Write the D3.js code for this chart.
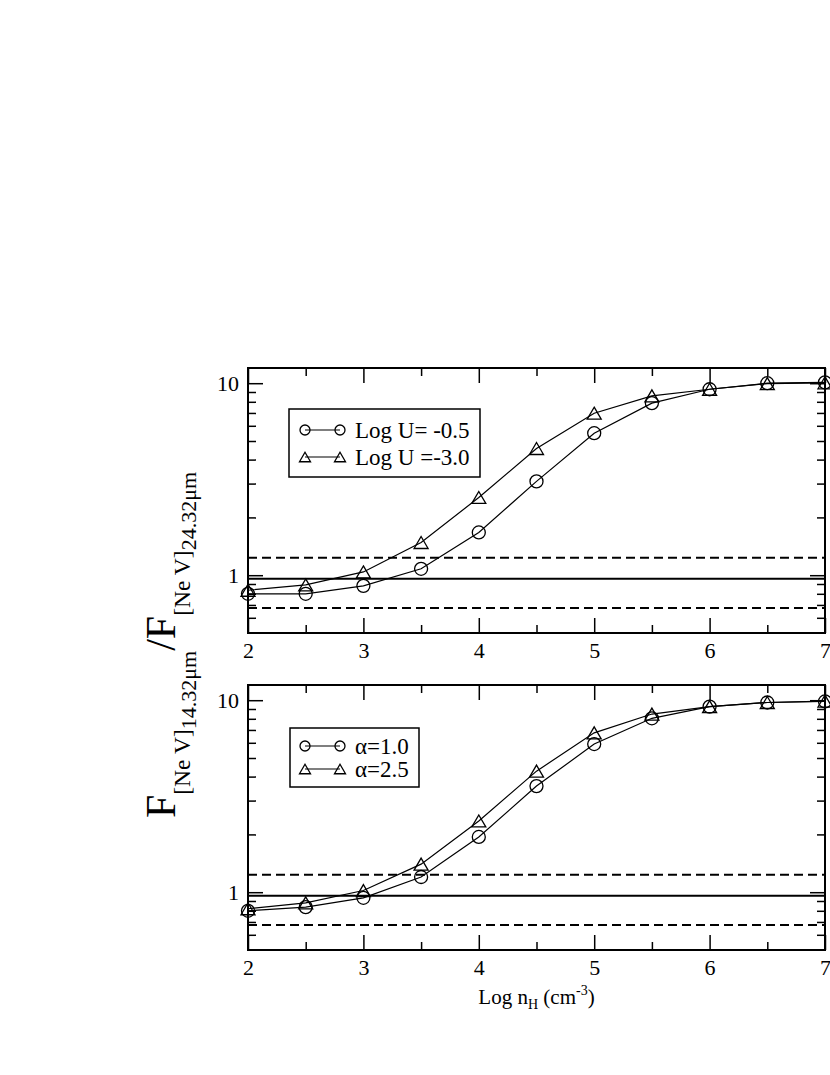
<!DOCTYPE html>
<html>
<head>
<meta charset="utf-8">
<script src="https://cdn.jsdelivr.net/npm/d3@7"></script>
<style>
  html, body { margin: 0; padding: 0; background: #fff; }
  svg { display: block; }
  svg text { font-family: "Liberation Serif", "Times New Roman", serif !important; fill: #000; }
</style>
</head>
<body>
<svg id="chart" width="830" height="1075"></svg>
<script>
// ---- data ----
const logNH = [2, 2.5, 3, 3.5, 4, 4.5, 5, 5.5, 6, 6.5, 7];

const topSeriesLabels = ["Log U= -0.5", "Log U =-3.0"];
const topCircle   = [0.80, 0.80, 0.88, 1.08, 1.67, 3.08, 5.49, 7.87, 9.30, 10.0, 10.1];
const topTriangle = [0.835, 0.89, 1.04, 1.48, 2.54, 4.57, 6.98, 8.59, 9.30, 9.95, 10.05];

const bottomSeriesLabels = ["\u03b1=1.0", "\u03b1=2.5"];
const bottomCircle   = [0.80, 0.836, 0.935, 1.20, 1.94, 3.57, 5.91, 8.05, 9.26, 9.73, 9.85];
const bottomTriangle = [0.82, 0.88, 1.02, 1.40, 2.35, 4.27, 6.76, 8.47, 9.26, 9.73, 9.90];

// observed ratio (solid) and its range (dashed)
const observedRatio = [0.957];
const observedRange = [0.675, 1.233];

const xMajorTicks = [2, 3, 4, 5, 6, 7];
const xMinorTicks = [2.5, 3.5, 4.5, 5.5, 6.5];
const yMajorTicks = [1, 10];
const yMinorTicks = [0.6, 0.7, 0.8, 0.9, 2, 3, 4, 5, 6, 7, 8, 9];
const xDomain = [2, 7];
const yDomain = [0.5, 12];

const SERIF = "'Liberation Serif', 'Times New Roman', serif";

// ---- layout ----
const svg = d3.select("#chart");
const left = 248, right = 825;
const panels = [
  { top: 368, bottom: 633, circle: topCircle, tri: topTriangle, labels: topSeriesLabels,
    legend: { x0: 289, x1: 480, y0: 409, y1: 477, rows: [430, 457] } },
  { top: 685, bottom: 950, circle: bottomCircle, tri: bottomTriangle, labels: bottomSeriesLabels,
    legend: { x0: 290, x1: 419, y0: 728, y1: 787, rows: [746, 769] } }
];

const x = d3.scaleLinear().domain(xDomain).range([left, right]);

function triPath(w, h) {
  return `M0,${-h / 2}L${w / 2},${h / 2}L${-w / 2},${h / 2}Z`;
}

panels.forEach(p => {
  const y = d3.scaleLog().domain(yDomain).range([p.bottom, p.top]);
  const g = svg.append("g");

  const mk = (axisFn, scale, vals, size, labels) => {
    const a = axisFn(scale).tickValues(vals).tickSizeInner(-size).tickSizeOuter(0)
      .tickPadding(labels ? 9 : 0);
    if (!labels) a.tickFormat("");
    else a.tickFormat(d3.format("d"));
    return a;
  };
  const axes = [
    [d3.axisBottom, x, `translate(0,${p.bottom})`, xMajorTicks, xMinorTicks, true],
    [d3.axisTop, x, `translate(0,${p.top})`, xMajorTicks, xMinorTicks, false],
    [d3.axisLeft, y, `translate(${left},0)`, yMajorTicks, yMinorTicks, true],
    [d3.axisRight, y, `translate(${right},0)`, yMajorTicks, yMinorTicks, false]
  ];
  axes.forEach(([fn, sc, tr, maj, min, lab]) => {
    const ga = g.append("g").attr("transform", tr).call(mk(fn, sc, maj, 15, lab));
    const gm = g.append("g").attr("transform", tr).call(mk(fn, sc, min, 8, false));
    [ga, gm].forEach(s => {
      s.attr("font-family", null).attr("font-size", null);
      s.select(".domain").remove();
      s.selectAll(".tick line").attr("stroke", "#000").attr("stroke-width", 1.5);
      s.selectAll(".tick text").style("font-size", "22px").style("font-family", SERIF);
    });
  });

  // frame
  g.append("rect").attr("x", left).attr("y", p.top)
    .attr("width", right - left).attr("height", p.bottom - p.top)
    .attr("fill", "none").attr("stroke", "#000").attr("stroke-width", 2);

  // reference lines
  g.selectAll(".obs").data(observedRatio).enter().append("line")
    .attr("x1", left).attr("x2", right)
    .attr("y1", d => y(d)).attr("y2", d => y(d))
    .attr("stroke", "#000").attr("stroke-width", 2);
  g.selectAll(".rng").data(observedRange).enter().append("line")
    .attr("x1", left).attr("x2", right)
    .attr("y1", d => y(d)).attr("y2", d => y(d))
    .attr("stroke", "#000").attr("stroke-width", 2).attr("stroke-dasharray", "9,5");

  const line = d3.line().x((d, i) => x(logNH[i])).y(d => y(d));
  [p.circle, p.tri].forEach(s => {
    g.append("path").attr("d", line(s)).attr("fill", "none")
      .attr("stroke", "#000").attr("stroke-width", 1.2);
  });
  g.selectAll(".c").data(p.circle).enter().append("circle")
    .attr("cx", (d, i) => x(logNH[i])).attr("cy", d => y(d)).attr("r", 6.5)
    .attr("fill", "none").attr("stroke", "#000").attr("stroke-width", 1.3);
  g.selectAll(".t").data(p.tri).enter().append("path")
    .attr("d", triPath(14, 12))
    .attr("transform", (d, i) => `translate(${x(logNH[i])},${y(d)})`)
    .attr("fill", "none").attr("stroke", "#000").attr("stroke-width", 1.3);

  // legend
  const L = p.legend;
  g.append("rect").attr("x", L.x0).attr("y", L.y0)
    .attr("width", L.x1 - L.x0).attr("height", L.y1 - L.y0)
    .attr("fill", "#fff").attr("stroke", "#000").attr("stroke-width", 1.5);
  L.rows.forEach((ry, k) => {
    g.append("line").attr("x1", 305).attr("x2", 340).attr("y1", ry).attr("y2", ry)
      .attr("stroke", "#000").attr("stroke-width", 1.2);
    [305, 340].forEach(cx => {
      if (k === 0) {
        g.append("circle").attr("cx", cx).attr("cy", ry).attr("r", 5)
          .attr("fill", "none").attr("stroke", "#000").attr("stroke-width", 1.3);
      } else {
        g.append("path").attr("d", triPath(11, 9.5))
          .attr("transform", `translate(${cx},${ry})`)
          .attr("fill", "none").attr("stroke", "#000").attr("stroke-width", 1.3);
      }
    });
    g.append("text").attr("x", 355).attr("y", ry).attr("dy", "0.35em")
      .style("font-size", "23px").style("font-family", SERIF).text(p.labels[k]);
  });
});

// x-axis title
const xt = svg.append("text").attr("x", 536.5).attr("y", 1004)
  .attr("text-anchor", "middle").style("font-size", "21px").style("font-family", SERIF);
xt.append("tspan").text("Log n");
xt.append("tspan").style("font-size", "14px").attr("dy", 5).text("H");
xt.append("tspan").attr("dy", -5).text(" (cm");
xt.append("tspan").style("font-size", "14px").attr("dy", -9).text("-3");
xt.append("tspan").attr("dy", 9).text(")");

// y-axis title (rotated)
const yt = svg.append("text").attr("transform", "translate(175,645) rotate(-90)")
  .attr("text-anchor", "middle").style("font-size", "42px").style("font-family", SERIF);
yt.append("tspan").text("F");
yt.append("tspan").style("font-size", "23.5px").attr("dy", 15).text("[Ne V]");
yt.append("tspan").style("font-size", "22px").attr("dy", 6).text("14.32\u03bcm");
yt.append("tspan").attr("dy", -21).text("/F");
yt.append("tspan").style("font-size", "23.5px").attr("dy", 15).text("[Ne V]");
yt.append("tspan").style("font-size", "22px").attr("dy", 6).text("24.32\u03bcm");
</script>
</body>
</html>
